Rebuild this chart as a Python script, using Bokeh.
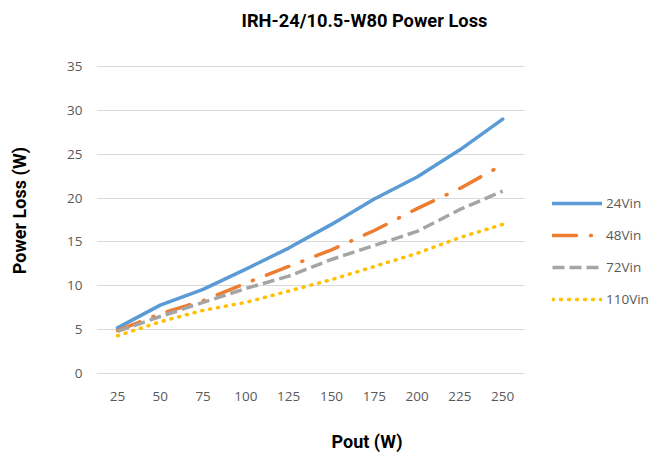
from bokeh.plotting import figure
from bokeh.models import Legend, LegendItem, Title, FixedTicker, Range1d, Label
from bokeh.embed import file_html
from bokeh.resources import INLINE

pout = [25, 50, 75, 100, 125, 150, 175, 200, 225, 250]
loss_24vin = [5.2, 7.8, 9.6, 11.9, 14.3, 17.0, 19.9, 22.4, 25.5, 29.0]
loss_48vin = [4.9, 6.8, 8.3, 10.3, 12.2, 14.1, 16.3, 18.8, 21.1, 23.8]
loss_72vin = [4.8, 6.5, 8.1, 9.7, 11.1, 13.0, 14.6, 16.2, 18.7, 20.8]
loss_110vin = [4.3, 5.9, 7.2, 8.1, 9.4, 10.7, 12.2, 13.7, 15.5, 17.0]
series_names = ["24Vin", "48Vin", "72Vin", "110Vin"]
y_ticks = [0, 5, 10, 15, 20, 25, 30, 35]
chart_title = "IRH-24/10.5-W80 Power Loss"

LABEL_FONT = "Roboto"
TICK_FONT = "Open Sans"

# layout: plot area spans pixel x 96..663, y 0..420; data 25->x117, step 25 = 42.8px;
# y 0 -> 373px, 35 -> 66px
W, H = 663, 460
LEFT, BOTTOM = 96, 40
PX_X = 42.8 / 25.0
PX_Y = (373 - 66) / 35.0
x_lo = 25 - (117 - LEFT) / PX_X
x_hi = 25 + (W - 117) / PX_X
y_lo = -((H - BOTTOM) - 373) / PX_Y
y_hi = 373 / PX_Y
plot_x_lo, plot_x_hi = 12.5, 262.5

p = figure(width=W, height=H, output_backend="svg", toolbar_location=None,
           x_range=Range1d(x_lo, x_hi), y_range=Range1d(y_lo, y_hi),
           min_border_left=LEFT, min_border_right=0, min_border_top=0,
           min_border_bottom=BOTTOM)
p.outline_line_color = None
p.background_fill_color = "white"
p.border_fill_color = "white"

xlab = Title(text="Pout (W)", align="left", offset=235, vertical_align="bottom",
             text_font=LABEL_FONT, text_font_size="18px", text_font_style="bold",
             text_color="#000000", standoff=17)
p.add_layout(xlab, "below")

# horizontal grid lines restricted to the plotting window
p.xgrid.grid_line_color = None
grid = p.ygrid[0]
grid.bounds = (0, 35)
if "cross_bounds" in grid.properties():
    grid.grid_line_color = "#D9D9D9"
    grid.grid_line_width = 1
    grid.cross_bounds = (plot_x_lo, plot_x_hi)
else:
    grid.grid_line_color = None
    p.segment(x0=[plot_x_lo] * len(y_ticks), y0=y_ticks,
              x1=[plot_x_hi] * len(y_ticks), y1=y_ticks,
              line_color="#D9D9D9", line_width=1)

r1 = p.line(pout, loss_24vin, line_color="#5B9BD5", line_width=3.5, line_cap="round", line_join="round")
r2 = p.line(pout, loss_48vin, line_color="#ED7D31", line_width=3.5, line_cap="round",
            line_dash="24 14 1 14")
r3 = p.line(pout, loss_72vin, line_color="#A5A5A5", line_width=3.5, line_dash="12 5")
r4 = p.line(pout, loss_110vin, line_color="#FFC000", line_width=3.5, line_cap="round",
            line_dash="1 7")

p.xaxis.ticker = FixedTicker(ticks=pout)
p.yaxis.ticker = FixedTicker(ticks=y_ticks)
p.xaxis.fixed_location = 0
for ax in (p.xaxis, p.yaxis):
    ax.axis_line_color = None
    ax.major_tick_line_color = None
    ax.minor_tick_line_color = None
    ax.major_tick_out = 0
    ax.major_tick_in = 0
    ax.major_label_text_font = TICK_FONT
    ax.major_label_text_font_size = "13.5px"
    ax.major_label_text_color = "#595959"
p.xaxis.major_label_standoff = 18
p.yaxis.major_label_standoff = 14

p.yaxis.axis_label = "Power Loss (W)"
p.yaxis.axis_label_text_font = LABEL_FONT
p.yaxis.axis_label_text_font_size = "18px"
p.yaxis.axis_label_text_font_style = "bold"
p.yaxis.axis_label_text_color = "#000000"
p.yaxis.axis_label_standoff = 34

title_label = Label(x=25 + (364 - 117) / PX_X, y=(373 - 20) / PX_Y, text=chart_title,
                    text_align="center", text_baseline="middle",
                    text_font=LABEL_FONT, text_font_size="18.3px", text_font_style="bold",
                    text_color="#000000")
p.add_layout(title_label)

legend = Legend(items=[LegendItem(label=n, renderers=[r]) for n, r in
                       zip(series_names, [r1, r2, r3, r4])],
                location=(552 - LEFT, (H - BOTTOM) - 309), orientation="vertical",
                glyph_width=50, glyph_height=20, label_height=20,
                label_standoff=4, spacing=12, padding=0, margin=0,
                border_line_color=None, background_fill_alpha=0,
                label_text_font=TICK_FONT, label_text_font_size="13.5px",
                label_text_color="#595959")
p.add_layout(legend, "center")

open("out.html", "w").write(file_html(p, INLINE))
